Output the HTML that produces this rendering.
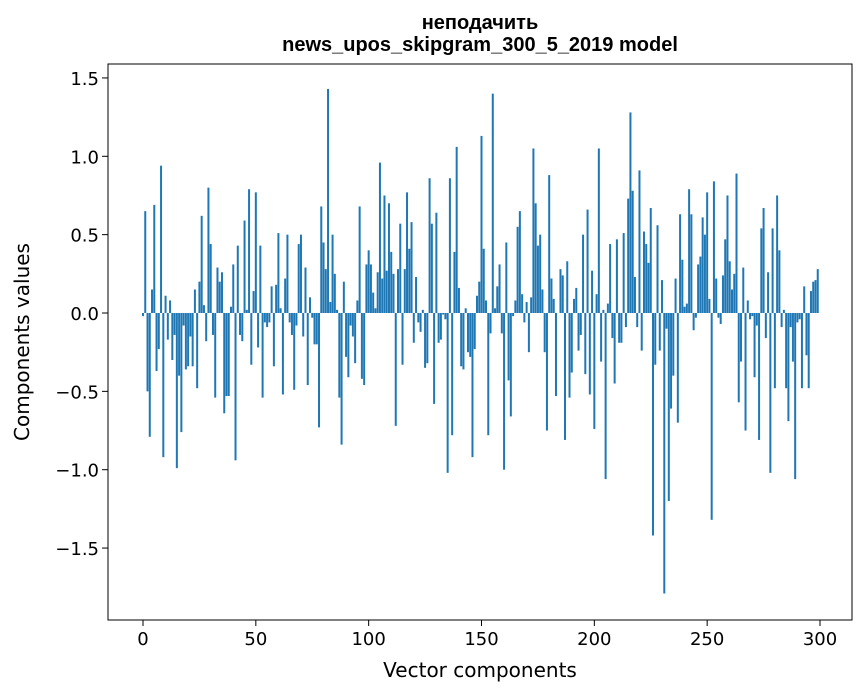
<!DOCTYPE html>
<html><head><meta charset="utf-8"><style>
body{margin:0;background:#fff;}
svg{display:block;font-family:"DejaVu Sans","Liberation Sans",sans-serif;}
</style></head><body>
<svg id="chart" width="867" height="696" viewBox="0 0 867 696" xmlns="http://www.w3.org/2000/svg">
<rect x="0" y="0" width="867" height="696" fill="#fff"/>
<text x="480" y="29" text-anchor="middle" font-size="20" font-weight="bold" font-family="'Liberation Sans',sans-serif">неподачить</text>
<text x="480" y="51" text-anchor="middle" font-size="20" font-weight="bold" font-family="'Liberation Sans',sans-serif">news_upos_skipgram_300_5_2019 model</text>
<g id="bars"></g>
<g id="axes"></g>
<rect x="108" y="64" width="744" height="556" fill="none" stroke="#000" stroke-width="1"/>
<text x="480" y="677" text-anchor="middle" font-size="20">Vector components</text>
<text transform="translate(29,342) rotate(-90)" text-anchor="middle" font-size="20">Components values</text>
</svg>
<script>
const values = [
-0.02,0.65,-0.50,-0.79,0.15,0.69,-0.37,-0.23,0.94,-0.92,
0.11,-0.17,0.08,-0.30,-0.14,-0.99,-0.40,-0.76,-0.08,-0.36,
-0.34,-0.15,-0.34,0.15,-0.48,0.20,0.62,0.05,-0.18,0.80,
0.44,-0.14,-0.54,0.29,0.20,0.26,-0.64,-0.53,-0.53,0.04,
0.31,-0.94,0.43,-0.14,-0.18,0.59,0.02,0.79,-0.33,0.14,
0.77,-0.22,0.43,-0.54,-0.06,-0.09,-0.06,0.17,-0.34,0.18,
0.51,0.03,-0.52,0.22,0.50,-0.06,-0.14,-0.49,-0.08,0.44,
0.50,-0.15,0.29,-0.46,0.10,-0.03,-0.20,-0.20,-0.73,0.68,
0.45,0.28,1.43,0.07,0.50,0.25,0.02,-0.54,-0.84,0.20,
-0.28,-0.41,-0.08,-0.15,-0.32,0.08,0.68,-0.42,-0.46,0.31,
0.40,0.31,0.13,0.03,0.26,0.96,0.22,0.75,0.27,0.70,
0.39,0.25,-0.72,0.28,0.57,-0.33,0.28,0.77,0.41,0.58,
-0.19,0.23,-0.06,-0.12,0.02,-0.35,-0.32,0.86,0.57,-0.58,
0.64,-0.19,-0.17,-0.01,-0.04,-1.02,0.86,-0.78,0.39,1.06,
0.16,-0.34,-0.36,0.03,-0.25,-0.28,-0.92,-0.23,0.11,0.20,
1.13,0.41,0.08,-0.78,-0.13,1.40,0.03,0.17,0.31,-0.13,
-1.00,0.45,-0.43,-0.66,-0.02,0.08,0.55,0.65,0.12,-0.06,
0.07,-0.25,0.10,1.05,0.70,0.43,0.50,0.15,-0.25,-0.75,
0.88,0.22,0.09,-0.53,0.00,0.28,0.24,-0.81,0.33,-0.54,
-0.38,0.09,0.16,-0.24,-0.14,0.50,-0.39,0.66,-0.52,0.27,
-0.74,0.12,1.05,-0.31,0.02,-1.06,0.06,0.44,-0.16,-0.45,
0.47,-0.19,-0.19,0.51,-0.09,0.73,1.28,0.78,0.23,-0.09,
0.91,-0.24,0.52,0.44,0.32,0.67,-1.42,-0.33,0.56,-0.24,
0.21,-1.79,-0.10,-1.20,-0.61,-0.40,0.22,-0.70,0.63,0.34,
0.04,0.06,0.79,0.63,-0.11,-0.03,0.31,0.36,0.61,0.50,
0.77,0.09,-1.32,0.84,0.22,-0.03,-0.07,0.24,0.47,0.75,
0.33,0.15,0.25,0.89,-0.57,-0.31,0.29,-0.75,0.08,-0.04,
-0.02,-0.41,-0.08,-0.81,0.54,0.67,-0.16,0.26,-1.02,0.54,
-0.48,0.75,0.40,-0.09,0.02,-0.48,-0.69,-0.09,-0.31,-1.06,
-0.06,-0.04,-0.48,0.17,-0.27,-0.48,0.14,0.20,0.21,0.28
];
const xTicks = [0,50,100,150,200,250,300];
const yTicks = [-1.5,-1.0,-0.5,0.0,0.5,1.0,1.5];
const yTickLabels = ["\u22121.5","\u22121.0","\u22120.5","0.0","0.5","1.0","1.5"];

const NS = "http://www.w3.org/2000/svg";
function xs(v){ return 143 + v*(820-143)/300; }
function ys(v){ return 313 - v*156.7; }
const bw = 2.0;
const gb = document.getElementById('bars');
values.forEach((v,i)=>{
  const r = document.createElementNS(NS,'rect');
  
  
  const y0 = ys(Math.max(v,0)), y1 = ys(Math.min(v,0));
  r.setAttribute('x', xs(i)-bw/2);
  r.setAttribute('y', y0);
  r.setAttribute('width', bw);
  r.setAttribute('height', Math.max(y1-y0,0));
  r.setAttribute('fill', '#1f77b4');
  gb.appendChild(r);
});
const ga = document.getElementById('axes');
xTicks.forEach(t=>{
  const l = document.createElementNS(NS,'line');
  
  
  l.setAttribute('x1', xs(t)); l.setAttribute('x2', xs(t));
  l.setAttribute('y1', 620); l.setAttribute('y2', 626);
  l.setAttribute('stroke', '#000');
  ga.appendChild(l);
  const tx = document.createElementNS(NS,'text');
  
  
  tx.setAttribute('x', xs(t)); tx.setAttribute('y', 645);
  tx.setAttribute('text-anchor', 'middle');
  tx.setAttribute('font-size', '18');
  tx.textContent = String(t);
  ga.appendChild(tx);
});
yTicks.forEach((t,i)=>{
  const l = document.createElementNS(NS,'line');
  
  
  l.setAttribute('x1', 102); l.setAttribute('x2', 108);
  l.setAttribute('y1', ys(t)); l.setAttribute('y2', ys(t));
  l.setAttribute('stroke', '#000');
  ga.appendChild(l);
  const tx = document.createElementNS(NS,'text');
  
  
  tx.setAttribute('x', 99); tx.setAttribute('y', ys(t)+7);
  tx.setAttribute('text-anchor', 'end');
  tx.setAttribute('font-size', '18');
  tx.textContent = yTickLabels[i];
  ga.appendChild(tx);
});
</script>
</body></html>
